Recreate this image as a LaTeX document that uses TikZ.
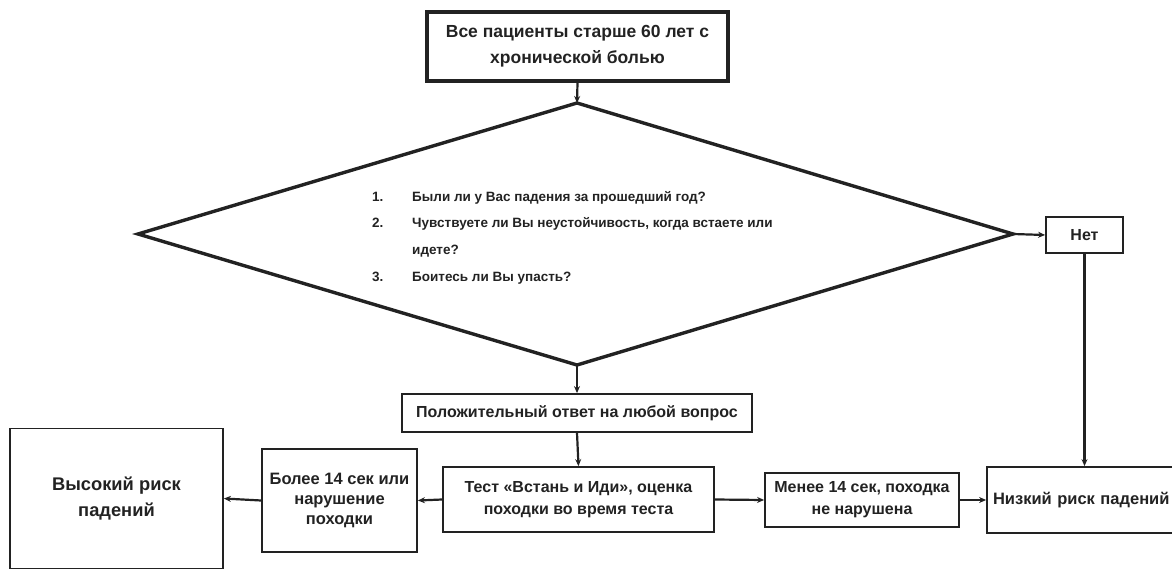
\documentclass[tikz,border=0pt]{standalone}
\usepackage{fontspec}
\setmainfont{Liberation Sans}
\usetikzlibrary{arrows.meta}
\definecolor{ink}{HTML}{222222}
\tikzset{
  box/.style={draw=ink, line width=1.8pt, rectangle, inner sep=0pt, align=center, font=\bfseries\fontsize{16}{22}\selectfont, text=ink},
  qtext/.style={anchor=base west, inner sep=0pt, font=\bfseries\fontsize{13.5}{16}\selectfont, text=ink},
  conn/.style={draw=ink, line width=2.2pt, -{Stealth[length=7pt,width=6pt]}},
}
\begin{document}
\begin{tikzpicture}[x=1pt,y=-1pt]
\useasboundingbox (0,0) rectangle (1172,569);
% top box
\node[box, line width=3.5pt, minimum width=301pt, minimum height=69pt, font=\bfseries\fontsize{17.5}{26}\selectfont] (top) at (577.5,46.5) {Все пациенты старше 60 лет с\\хронической болью};
% diamond
\coordinate (dtop) at (577,103);
\coordinate (dleft) at (138,234);
\coordinate (dright) at (1013,234);
\coordinate (dbot) at (577,365);
\draw[ink, line width=3.4pt, line join=miter] (dtop) -- (dright) -- (dbot) -- (dleft) -- cycle;
\node[qtext] (n1) at (372,202) {1.};
\node[qtext] (q1) at (412,202) {Были ли у Вас падения за прошедший год?};
\node[qtext] (n2) at (372,228) {2.};
\node[qtext] (q2) at (412,228) {Чувствуете ли Вы неустойчивость, когда встаете или};
\node[qtext] (q2b) at (412,255) {идете?};
\node[qtext] (n3) at (372,281) {3.};
\node[qtext] (q3) at (412,281) {Боитесь ли Вы упасть?};
% other boxes
\node[box, minimum width=77pt, minimum height=36pt] (net) at (1084.5,235) {Нет};
\node[box, minimum width=350pt, minimum height=38pt] (pos) at (577,413) {Положительный ответ на любой вопрос};
\node[box, minimum width=271pt, minimum height=65pt] (test) at (578.5,499.5) {Тест «Встань и Иди», оценка\\походки во время теста};
\node[box, minimum width=155pt, minimum height=103pt, font=\bfseries\fontsize{16.5}{20}\selectfont] (bolee) at (339.5,500.5) {Более 14 сек или\\нарушение\\походки};
\node[box, minimum width=213pt, minimum height=140pt, font=\bfseries\fontsize{18.3}{26}\selectfont] (vys) at (116.5,498.5) {Высокий риск\\падений};
\node[box, minimum width=194pt, minimum height=54pt, font=\bfseries\fontsize{16}{22}\selectfont] (menee) at (862,500) {Менее 14 сек, походка\\не нарушена};
\node[box, minimum width=220pt, minimum height=66pt, text width=212pt, align=left, font=\bfseries\fontsize{16.5}{20}\selectfont] (nizk) at (1097,500) {\hspace*{2pt}Низкий риск падений};
% connectors
\draw[conn] (top.south) -- (dtop);
\draw[conn] (dbot) -- (pos.north);
\draw[conn] (pos.south) -- (test.north);
\draw[conn] (test.west) -- (bolee.east);
\draw[conn] (bolee.west) -- (vys.east);
\draw[conn] (test.east) -- (menee.west);
\draw[conn] (menee.east) -- (nizk.west);
\draw[conn] (dright) -- (net.west);
\draw[conn] (net.south) -- (net.south |- nizk.north);
\end{tikzpicture}
\end{document}
